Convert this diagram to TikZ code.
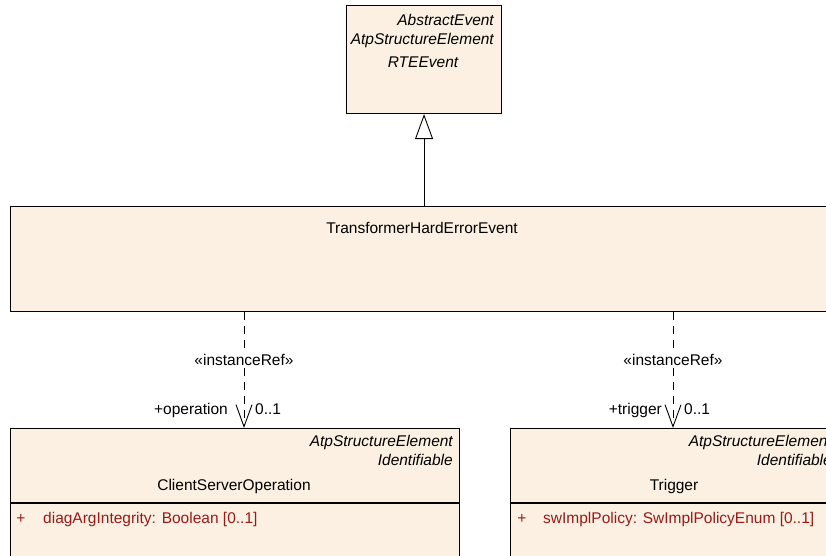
\documentclass[tikz,border=0pt]{standalone}
\usepackage{fontspec}
\setmainfont{Liberation Sans}
\usetikzlibrary{arrows.meta}
\definecolor{boxfill}{RGB}{251,240,225}
\definecolor{attrred}{RGB}{155,25,25}
\tikzset{
  umlbox/.style={draw=black, fill=boxfill, line width=1.1pt, rectangle, anchor=north west, inner sep=0pt},
  lbl/.style={inner sep=0pt, font=\fontsize{15.5}{18}\selectfont},
  ital/.style={lbl, font=\fontsize{15.5}{18}\selectfont\itshape},
  attr/.style={lbl, text=attrred},
  gen/.style={line width=0.9pt, -{Triangle[open, length=25pt, width=18pt, line width=0.9pt]}},
  iref/.style={line width=0.9pt, dash pattern=on 8pt off 6pt, -{Straight Barb[length=22pt, width=16pt, line width=0.9pt]}}
}
\begin{document}
\begin{tikzpicture}[x=1pt, y=-1pt]
\useasboundingbox (0,0) rectangle (826,556);
\clip (0,0) rectangle (826,556);
% RTEEvent
\node[umlbox, minimum width=155pt, minimum height=108pt] (rte) at (346,5) {};
\node[ital, anchor=base east] (rte1) at (494,26) {AbstractEvent};
\node[ital, anchor=base east] (rte2) at (494,45) {AtpStructureElement};
\node[ital, anchor=base] (rte3) at (423,68) {RTEEvent};
% TransformerHardErrorEvent
\node[umlbox, minimum width=826pt, minimum height=105pt] (the) at (10,206) {};
\node[lbl, anchor=base] (thet) at (422,233) {TransformerHardErrorEvent};
% ClientServerOperation
\node[umlbox, minimum width=449pt, minimum height=140pt] (cso) at (10,428) {};
\node[ital, anchor=base east] (cso1) at (453,446) {AtpStructureElement};
\node[ital, anchor=base east] (cso2) at (453,465) {Identifiable};
\node[lbl, anchor=base] (cso3) at (234,490) {ClientServerOperation};
\draw[line width=1.1pt] (cso.west |- 0,503) coordinate (csodl) -- (cso.east |- 0,503) coordinate (csodr);
\node[attr, anchor=base] (csop) at (21,523) {+};
\node[attr, anchor=base west] (csoa) at (43,523) {diagArgIntegrity: Boolean [0..1]};
% Trigger
\node[umlbox, minimum width=328pt, minimum height=140pt] (trg) at (510,428) {};
\node[ital, anchor=base east] (trg1) at (832,446) {AtpStructureElement};
\node[ital, anchor=base east] (trg2) at (832,465) {Identifiable};
\node[lbl, anchor=base] (trg3) at (674,490) {Trigger};
\draw[line width=1.1pt] (trg.west |- 0,503) coordinate (trgdl) -- (trg.east |- 0,503) coordinate (trgdr);
\node[attr, anchor=base] (trgp) at (522,523) {+};
\node[attr, anchor=base west] (trga) at (543,523) {swImplPolicy: SwImplPolicyEnum [0..1]};
% generalization
\draw[gen] (the.north -| rte.south) -- (rte.south);
% instanceRef connectors
\coordinate (opend) at (244,428);
\coordinate (trend) at (673,428);
\draw[iref] (opend |- the.south) -- (opend);
\draw[iref] (trend |- the.south) -- (trend);
\node[lbl, fill=white, inner sep=1pt, anchor=base] (st1) at (244,365) {«instanceRef»};
\node[lbl, fill=white, inner sep=1pt, anchor=base] (st2) at (673,365) {«instanceRef»};
\node[lbl, anchor=base east] (r1) at (228,414) {+operation};
\node[lbl, anchor=base west] (m1) at (255,414) {0..1};
\node[lbl, anchor=base east] (r2) at (662,414) {+trigger};
\node[lbl, anchor=base west] (m2) at (684,414) {0..1};
\end{tikzpicture}
\end{document}
